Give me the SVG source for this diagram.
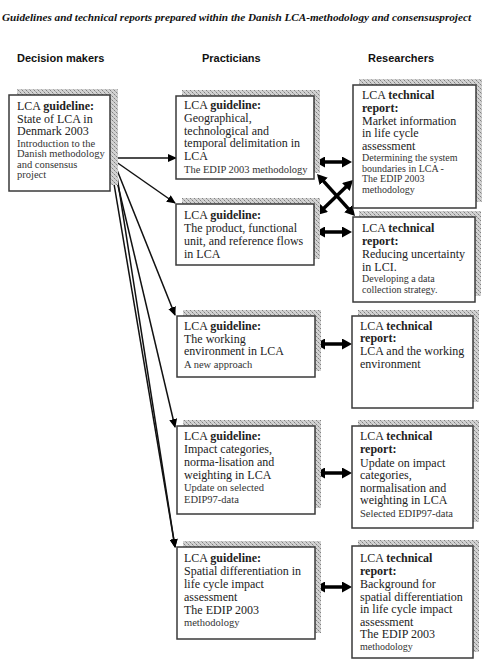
<svg xmlns="http://www.w3.org/2000/svg" width="489" height="661" viewBox="0 0 489 661">
<style>
text{font-family:"Liberation Serif","Times New Roman",serif;fill:#222}
.m{font-size:12px}
.s{font-size:10px;fill:#333}
.s2{font-size:10.5px;fill:#333}
.b{font-weight:bold}
.title{font-size:11.3px;font-weight:bold;font-style:italic;fill:#111}
.hdr{font-family:"Liberation Sans",Arial,sans-serif;font-size:11px;font-weight:bold;fill:#111}
.box{fill:#fff;stroke:#3a3a3a;stroke-width:1.5}
.sh{fill:url(#hatch)}
.thin{stroke:#111;stroke-width:1.5;fill:none;marker-end:url(#ah)}
.thick{stroke:#000;stroke-width:3.5;fill:none;marker-start:url(#dh);marker-end:url(#dh)}
</style>
<defs>
<pattern id="hatch" width="4" height="4" patternUnits="userSpaceOnUse">
<rect width="4" height="4" fill="#d2d2d2"/>
<path d="M0 0h1v1H0zM2 2h1v1H2z" fill="#808080"/>
<path d="M1 1h1v1H1zM3 3h1v1H3z" fill="#ababab"/>
</pattern>
<marker id="ah" markerUnits="userSpaceOnUse" markerWidth="10" markerHeight="8" refX="8" refY="4" orient="auto">
<path d="M0 0L9 4L0 8z" fill="#000"/>
</marker>
<marker id="dh" markerUnits="userSpaceOnUse" markerWidth="11" markerHeight="11" refX="3" refY="5.5" orient="auto-start-reverse">
<path d="M0 0L10 5.5L0 11z" fill="#000"/>
</marker>
</defs>

<text class="title" x="2" y="21" textLength="469" lengthAdjust="spacingAndGlyphs">Guidelines and technical reports prepared within the Danish LCA-methodology and consensusproject</text>
<text class="hdr" x="17" y="62">Decision makers</text>
<text class="hdr" x="202" y="62">Practicians</text>
<text class="hdr" x="368" y="62">Researchers</text>

<g id="connectors">
<line class="thin" x1="112" y1="158" x2="176" y2="158"/>
<line class="thin" x1="112" y1="159" x2="175" y2="203"/>
<line class="thin" x1="113" y1="160" x2="175" y2="315"/>
<line class="thin" x1="112" y1="160" x2="175" y2="427"/>
<line class="thin" x1="110" y1="160" x2="175" y2="547"/>
<line class="thin" x1="114" y1="157" x2="175" y2="547"/>
<line class="thick" x1="322" y1="162" x2="345" y2="162"/>
<line class="thick" x1="322" y1="232" x2="345" y2="232"/>
<line class="thick" x1="321.7" y1="179.2" x2="350.3" y2="210.8"/>
<line class="thick" x1="322" y1="210.1" x2="348" y2="184.9"/>
<line class="thick" x1="322" y1="344" x2="345" y2="344"/>
<line class="thick" x1="322" y1="473" x2="345" y2="473"/>
<line class="thick" x1="322" y1="587" x2="345" y2="587"/>
</g>

<g id="dm">
<rect class="sh" x="17" y="89" width="101" height="96"/>
<rect class="box" x="9" y="95" width="101" height="96"/>
<text><tspan class="m" x="17" y="110">LCA <tspan class="b">guideline:</tspan></tspan><tspan class="m" x="17" y="122.5">State of LCA in</tspan><tspan class="m" x="17" y="135">Denmark 2003</tspan><tspan class="s2" x="17" y="146.5">Introduction to the</tspan><tspan class="s2" x="17" y="157">Danish methodology</tspan><tspan class="s2" x="17" y="167.5">and consensus</tspan><tspan class="s2" x="17" y="178">project</tspan></text>
</g>

<g id="p1">
<rect class="sh" x="182" y="90" width="138" height="83"/>
<rect class="box" x="176" y="96" width="138" height="83"/>
<text><tspan class="m" x="184" y="109">LCA <tspan class="b">guideline:</tspan></tspan><tspan class="m" x="184" y="122">Geographical,</tspan><tspan class="m" x="184" y="134.5">technological and</tspan><tspan class="m" x="184" y="147">temporal delimitation in</tspan><tspan class="m" x="184" y="160">LCA</tspan><tspan class="s2" x="184" y="172.5">The EDIP 2003 methodology</tspan></text>
</g>

<g id="p2">
<rect class="sh" x="182" y="198" width="138" height="61"/>
<rect class="box" x="176" y="204" width="138" height="61"/>
<text><tspan class="m" x="184" y="219">LCA <tspan class="b">guideline:</tspan></tspan><tspan class="m" x="184" y="232">The product, functional</tspan><tspan class="m" x="184" y="245">unit, and reference flows</tspan><tspan class="m" x="184" y="258">in LCA</tspan></text>
</g>

<g id="p3">
<rect class="sh" x="183" y="310" width="138" height="61"/>
<rect class="box" x="177" y="316" width="138" height="61"/>
<text><tspan class="m" x="184" y="330">LCA <tspan class="b">guideline:</tspan></tspan><tspan class="m" x="184" y="342.5">The working</tspan><tspan class="m" x="184" y="355">environment in LCA</tspan><tspan class="s2" x="184" y="367.5">A new approach</tspan></text>
</g>

<g id="p4">
<rect class="sh" x="183" y="420" width="138" height="88"/>
<rect class="box" x="177" y="426" width="138" height="88"/>
<text><tspan class="m" x="184" y="440">LCA <tspan class="b">guideline:</tspan></tspan><tspan class="m" x="184" y="453">Impact categories,</tspan><tspan class="m" x="184" y="466">norma-lisation and</tspan><tspan class="m" x="184" y="479">weighting in LCA</tspan><tspan class="s2" x="184" y="491">Update on selected</tspan><tspan class="s2" x="184" y="502.5">EDIP97-data</tspan></text>
</g>

<g id="p5">
<rect class="sh" x="183" y="541" width="138" height="92"/>
<rect class="box" x="177" y="547" width="138" height="92"/>
<text><tspan class="m" x="184" y="562">LCA <tspan class="b">guideline:</tspan></tspan><tspan class="m" x="184" y="575">Spatial differentiation in</tspan><tspan class="m" x="184" y="588">life cycle impact</tspan><tspan class="m" x="184" y="601">assessment</tspan><tspan class="m" x="184" y="613.5">The EDIP 2003</tspan><tspan class="s2" x="184" y="625.5">methodology</tspan></text>
</g>

<g id="r1">
<rect class="sh" x="359" y="79" width="123" height="123"/>
<rect class="box" x="353" y="85" width="123" height="123"/>
<text><tspan class="m" x="362" y="98.5">LCA <tspan class="b">technical</tspan></tspan><tspan class="m b" x="362" y="111.5">report:</tspan><tspan class="m" x="362" y="124.5">Market information</tspan><tspan class="m" x="362" y="137">in life cycle</tspan><tspan class="m" x="362" y="149.5">assessment</tspan><tspan class="s" x="362" y="161">Determining the system</tspan><tspan class="s" x="362" y="171.5">boundaries in LCA -</tspan><tspan class="s" x="362" y="182">The EDIP 2003</tspan><tspan class="s" x="362" y="192.5">methodology</tspan></text>
</g>

<g id="r2">
<rect class="sh" x="359" y="211" width="122" height="85"/>
<rect class="box" x="353" y="217" width="122" height="85"/>
<text><tspan class="m" x="362" y="232">LCA <tspan class="b">technical</tspan></tspan><tspan class="m b" x="362" y="245">report:</tspan><tspan class="m" x="362" y="257.5">Reducing uncertainty</tspan><tspan class="m" x="362" y="270.5">in LCI.</tspan><tspan class="s" x="362" y="282">Developing a data</tspan><tspan class="s" x="362" y="292.5">collection strategy.</tspan></text>
</g>

<g id="r3">
<rect class="sh" x="358" y="310" width="121" height="92"/>
<rect class="box" x="352" y="316" width="121" height="92"/>
<text><tspan class="m" x="360" y="329.5">LCA <tspan class="b">technical</tspan></tspan><tspan class="m b" x="360" y="342">report:</tspan><tspan class="m" x="360" y="355">LCA and the working</tspan><tspan class="m" x="360" y="368">environment</tspan></text>
</g>

<g id="r4">
<rect class="sh" x="358" y="420" width="121" height="102"/>
<rect class="box" x="352" y="426" width="121" height="102"/>
<text><tspan class="m" x="360" y="440">LCA <tspan class="b">technical</tspan></tspan><tspan class="m b" x="360" y="453">report:</tspan><tspan class="m" x="360" y="466.5">Update on impact</tspan><tspan class="m" x="360" y="479">categories,</tspan><tspan class="m" x="360" y="491.5">normalisation and</tspan><tspan class="m" x="360" y="504">weighting in LCA</tspan><tspan class="s2" x="360" y="517">Selected EDIP97-data</tspan></text>
</g>

<g id="r5">
<rect class="sh" x="358" y="540" width="121" height="112"/>
<rect class="box" x="352" y="546" width="121" height="112"/>
<text><tspan class="m" x="360" y="562">LCA <tspan class="b">technical</tspan></tspan><tspan class="m b" x="360" y="575">report:</tspan><tspan class="m" x="360" y="588">Background for</tspan><tspan class="m" x="360" y="600.5">spatial differentiation</tspan><tspan class="m" x="360" y="613">in life cycle impact</tspan><tspan class="m" x="360" y="625.5">assessment</tspan><tspan class="m" x="360" y="638">The EDIP 2003</tspan><tspan class="s" x="360" y="649.5">methodology</tspan></text>
</g>
</svg>
